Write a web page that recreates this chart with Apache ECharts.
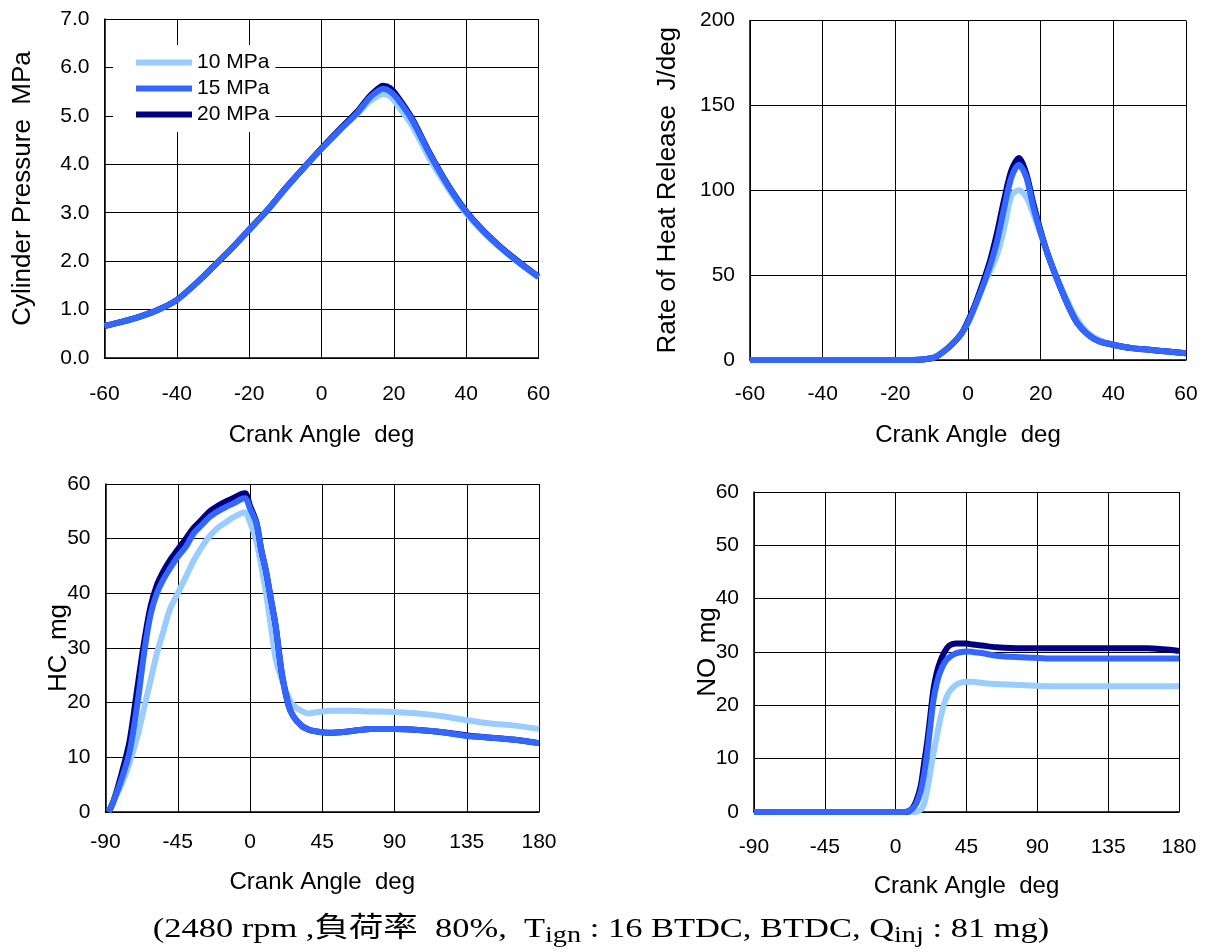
<!DOCTYPE html>
<html>
<head>
<meta charset="utf-8">
<script src="https://cdn.jsdelivr.net/npm/echarts@6/dist/echarts.min.js"></script>
<style>
  html, body { margin: 0; padding: 0; background: #fff; }
  #chart { width: 1207px; height: 952px; }
</style>
</head>
<body>
<div id="chart"></div>
<script>
// ---- Cylinder pressure (MPa) vs crank angle ----
const pAngle = [-60, -55, -50, -45, -40, -35, -30, -25, -20, -15, -10, -5, 0, 5, 10, 13, 15, 17, 19, 21, 25, 30, 35, 40, 45, 50, 55, 60];
const p10 = [0.66, 0.75, 0.86, 1.00, 1.20, 1.52, 1.88, 2.25, 2.65, 3.05, 3.50, 3.92, 4.32, 4.70, 5.05, 5.28, 5.38, 5.45, 5.40, 5.22, 4.80, 4.10, 3.50, 2.98, 2.58, 2.24, 1.94, 1.66];
const p15 = [0.66, 0.75, 0.86, 1.00, 1.20, 1.52, 1.88, 2.25, 2.65, 3.05, 3.50, 3.92, 4.32, 4.70, 5.07, 5.35, 5.48, 5.56, 5.50, 5.35, 4.92, 4.20, 3.56, 3.02, 2.60, 2.25, 1.95, 1.68];
const p20 = [0.66, 0.75, 0.86, 1.00, 1.20, 1.52, 1.88, 2.25, 2.65, 3.05, 3.50, 3.92, 4.33, 4.72, 5.10, 5.38, 5.52, 5.62, 5.57, 5.40, 4.95, 4.22, 3.57, 3.03, 2.61, 2.26, 1.96, 1.68];

// ---- Rate of heat release (J/deg) ----
const hrAngle = [-60, -15, -10, -8, -5, -2, 0, 2, 4, 6, 8, 10, 12, 14, 16, 18, 20, 22, 25, 28, 30, 33, 36, 40, 45, 50, 55, 60];
const hr10 = [0, 0, 1, 3, 8, 15, 22, 32, 43, 52, 62, 78, 97, 100, 96, 86, 74, 62, 46, 32, 24, 16, 12, 9, 7, 6, 5, 4];
const hr15 = [0, 0, 1, 3, 8, 15, 22, 32, 43, 55, 70, 90, 108, 115, 108, 90, 75, 62, 45, 30, 22, 15, 11, 9, 7, 6, 5, 4];
const hr20 = [0, 0, 1, 3, 8, 15, 23, 33, 45, 58, 75, 95, 112, 119, 110, 92, 76, 62, 45, 30, 22, 15, 11, 9, 7, 6, 5, 4];

// ---- HC mass (mg) ----
const hcAngle = [-88, -85, -80, -75, -70, -66, -62, -58, -54, -50, -45, -40, -35, -30, -25, -20, -15, -10, -5, -3, 0, 4, 7, 10, 13, 16, 20, 24, 27, 32, 37, 40, 45, 50, 60, 75, 90, 105, 120, 135, 150, 165, 180];
const hc10 = [0, 2, 5, 9, 14, 19, 24, 29, 33, 37, 40, 43, 46, 48.5, 50.5, 52, 53, 54, 54.7, 54.8, 53, 49.5, 45, 40, 34, 28, 24, 21, 19.5, 18.5, 18, 18.2, 18.4, 18.5, 18.5, 18.4, 18.3, 18, 17.5, 16.8, 16.2, 15.8, 15.2];
const hc15 = [0, 2, 6, 11, 20, 29, 36, 40, 42.5, 44.5, 46.7, 48.5, 51, 52.5, 54, 55, 55.8, 56.5, 57.3, 57.4, 55.5, 52.8, 48, 44, 39, 34, 25, 19.5, 17.5, 15.8, 15, 14.8, 14.6, 14.5, 14.7, 15.2, 15.2, 15, 14.6, 13.9, 13.6, 13.2, 12.6];
const hc20 = [0, 2, 7, 13, 23, 31, 37.5, 41.5, 44, 46, 48, 50, 52, 53.5, 55, 56, 56.8, 57.5, 58.2, 58.3, 56, 53, 48, 44, 39, 34, 25, 19.5, 17.5, 15.8, 15, 14.8, 14.6, 14.5, 14.7, 15.2, 15.2, 15, 14.6, 14, 13.6, 13.2, 12.6];

// ---- NO mass (mg) ----
const noAngle = [-90, 6, 10, 13, 16, 18, 20, 22, 24, 26, 28, 31, 34, 38, 42, 45, 49, 55, 64, 80, 96, 130, 160, 170, 180];
const no10 = [0, 0, 0, 0, 0.5, 1.5, 4, 7.5, 11, 14, 17, 20.5, 22.5, 23.8, 24.3, 24.4, 24.4, 24.2, 24.0, 23.8, 23.6, 23.6, 23.6, 23.6, 23.6];
const no15 = [0, 0, 0.5, 1.5, 4, 7, 11, 16, 21, 24, 26, 28, 29, 29.7, 30, 30.1, 30, 29.8, 29.3, 29, 28.8, 28.8, 28.8, 28.8, 28.8];
const no20 = [0, 0, 0.5, 2, 5, 9, 13, 18, 23, 26, 28, 30, 31.2, 31.6, 31.6, 31.6, 31.4, 31.2, 30.9, 30.7, 30.7, 30.7, 30.7, 30.5, 30.2];

const seriesNames = ['10 MPa', '15 MPa', '20 MPa'];
const colors = ['#99ccff', '#3366ff', '#000080'];
const zOrder = [2, 4, 3];

const pairs = (xs, ys) => xs.map((x, i) => [x, ys[i]]);

const sans = "'Liberation Sans', Arial, sans-serif";
const serif = "'Liberation Serif', 'Times New Roman', 'Noto Sans CJK TC', serif";
const black = '#000';
const tickFont = 21;

function xAxisFor(gridIndex, min, max, interval, labelMargin, nameGap) {
  return {
    gridIndex, type: 'value', min, max, interval,
    name: 'Crank Angle  deg', nameLocation: 'middle', nameGap,
    nameTextStyle: { fontFamily: sans, fontSize: 24, color: black },
    axisLine: { show: true, onZero: false, lineStyle: { color: black, width: 1.5 } },
    axisTick: { show: true, inside: true, length: 6, lineStyle: { color: black } },
    axisLabel: { fontFamily: sans, fontSize: tickFont, color: black, margin: labelMargin },
    splitLine: { show: true, lineStyle: { color: black, width: 1 } }
  };
}
function yAxisFor(gridIndex, min, max, interval, name, nameGap, fmt) {
  return {
    gridIndex, type: 'value', min, max, interval,
    name, nameLocation: 'middle', nameGap, nameRotate: 90,
    nameMoveOverlap: false,
    nameTextStyle: { fontFamily: sans, fontSize: 26, color: black },
    axisLine: { show: true, onZero: false, lineStyle: { color: black, width: 1.5 } },
    axisTick: { show: true, inside: true, length: 6, lineStyle: { color: black } },
    axisLabel: { fontFamily: sans, fontSize: tickFont, color: black, margin: 15, formatter: fmt },
    splitLine: { show: true, lineStyle: { color: black, width: 1 } }
  };
}

function lineSeries(idx, grid, xs, ys) {
  return {
    type: 'line', name: seriesNames[idx],
    xAxisIndex: grid, yAxisIndex: grid,
    data: pairs(xs, ys), showSymbol: false, symbol: 'none',
    smooth: 0.3, z: zOrder[idx],
    lineStyle: { color: colors[idx], width: 6 },
    itemStyle: { color: colors[idx] }
  };
}

const groups = [
  [pAngle, [p10, p15, p20]],
  [hrAngle, [hr10, hr15, hr20]],
  [hcAngle, [hc10, hc15, hc20]],
  [noAngle, [no10, no15, no20]]
];
const series = [];
groups.forEach(([xs, ysList], g) => {
  ysList.forEach((ys, i) => series.push(lineSeries(i, g, xs, ys)));
});

const option = {
  animation: false,
  backgroundColor: '#fff',
  grid: [
    { left: 104.5, top: 19, width: 434, height: 339 },
    { left: 750, top: 20.5, width: 436, height: 339.5 },
    { left: 105.5, top: 484, width: 433.5, height: 328 },
    { left: 754, top: 492, width: 425, height: 320 }
  ],
  xAxis: [
    xAxisFor(0, -60, 60, 20, 26, 65),
    xAxisFor(1, -60, 60, 20, 24, 63),
    xAxisFor(2, -90, 180, 45, 20, 58),
    xAxisFor(3, -90, 180, 45, 25, 62)
  ],
  yAxis: [
    yAxisFor(0, 0, 7, 1, 'Cylinder Pressure  MPa', 69, v => v.toFixed(1)),
    yAxisFor(1, 0, 200, 50, 'Rate of Heat Release  J/deg', 69),
    yAxisFor(2, 0, 60, 10, 'HC  mg', 34),
    yAxisFor(3, 0, 60, 10, 'NO  mg', 33)
  ],
  legend: {
    data: seriesNames,
    orient: 'vertical',
    left: 113, top: 45,
    padding: [7, 6, 7, 23],
    backgroundColor: '#fff',
    icon: 'rect',
    itemWidth: 56, itemHeight: 6, itemGap: 5,
    textStyle: { fontFamily: sans, fontSize: 21, color: black }
  },
  graphic: [{
    type: 'text',
    x: 601, y: 930,
    scaleX: 1.23,
    style: {
      text: '{a|(2480 rpm ,負荷率  80%,  T}{s|ign}{a| : 16 BTDC, BTDC, Q}{s|inj}{a| : 81 mg)}',
      align: 'center', verticalAlign: 'middle',
      fill: black,
      rich: {
        a: { fontFamily: serif, fontSize: 28, fill: black, lineHeight: 32 },
        s: { fontFamily: serif, fontSize: 23, fill: black, lineHeight: 32, padding: [11, 0, 0, 0] }
      }
    }
  }],
  series
};

const chart = echarts.init(document.getElementById('chart'), null, { renderer: 'canvas' });
chart.setOption(option);
</script>
</body>
</html>
